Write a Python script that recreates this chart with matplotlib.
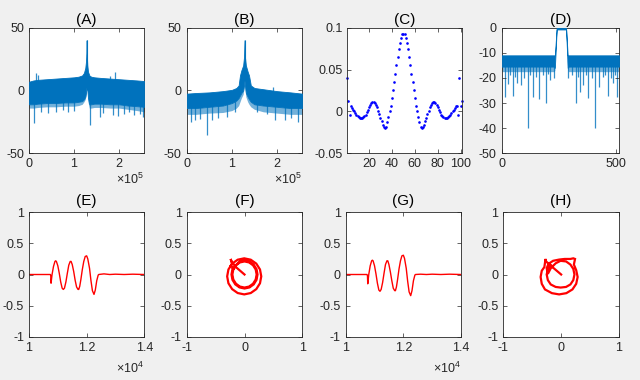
import numpy as np
import matplotlib
matplotlib.use("Agg")
import matplotlib.pyplot as plt

plt.rcParams['font.family'] = ['Liberation Sans', 'DejaVu Sans']
plt.rcParams['mathtext.fontset'] = 'custom'
plt.rcParams['mathtext.rm'] = 'Liberation Sans'
plt.rcParams['mathtext.it'] = 'Liberation Sans:italic'

BLUE = '#0072BD'
TXT = '#262626'

# ---------------- (A) spectrum: envelope + spikes ----------------
a_x = [0, 1e4, 2e4, 4e4, 6e4, 8e4, 1.0e5, 1.1e5, 1.18e5, 1.22e5, 1.25e5, 1.265e5,
       1.275e5, 1.28e5, 1.285e5, 1.295e5, 1.31e5, 1.34e5, 1.38e5, 1.45e5, 1.6e5,
       1.8e5, 2.0e5, 2.2e5, 2.4e5, 2.56e5]
a_upper = [7, 8, 8.5, 9, 9.5, 10, 10.5, 11, 12, 14, 18, 23, 30, 40, 28, 20, 15, 12,
           11, 10.5, 10, 9.5, 9, 8.5, 8, 7.5]
a_lower = [-11, -11, -10.5, -10, -10, -9.5, -9.5, -9, -8.5, -7, -5, -2, 2, 4, 3, 1,
           -6, -11, -11, -10.5, -10.5, -11, -11, -12, -12.5, -13]
a_fringe = [-14, -14, -13.5, -13, -13, -12.5, -12.5, -12, -11, -9, -7, -4, 0, 2, 1, -1,
            -9, -14, -14, -13.5, -13.5, -14, -14, -15, -16, -17]
a_spike_x = [10.4e3, 27e3, 42e3, 61e3, 75e3, 87e3, 101e3, 135e3, 157e3, 164e3,
             186e3, 197e3, 212e3, 223e3, 234e3, 246e3, 253e3,
             16e3, 20e3, 179e3, 192e3]
a_spike_y = [-26, -17.4, -18, -17, -15.5, -17, -16, -27.5, -21, -18,
             -19.5, -20, -19, -17, -19.5, -19, -21,
             13.6, 12.3, 11.8, 14.5]

# ---------------- (B) spectrum ----------------
b_x = [0, 2e4, 5e4, 8e4, 1.0e5, 1.1e5, 1.15e5, 1.18e5, 1.21e5, 1.25e5, 1.27e5, 1.28e5,
       1.29e5, 1.31e5, 1.35e5, 1.38e5, 1.42e5, 1.5e5, 1.7e5, 2.0e5, 2.3e5, 2.56e5]
b_upper = [-2.5, -2, -1.5, -0.5, 0.5, 2, 4, 12, 16, 20, 27, 40, 27, 20, 15, 12, 4, 2,
           1, -0.5, -1.5, -2.5]
b_lower = [-14, -14, -13, -12, -10, -8, -6, -4, -2, 0, 4, 8, 4, -2, -5, -7, -9, -11,
           -12, -13, -14, -14]
b_fringe = [-19, -19, -18, -17.5, -16, -14, -12, -9, -6, -3, 2, 6, 2, -5, -9, -11,
            -13, -15, -17, -18, -19, -19]
b_spike_x = [9.6e3, 18e3, 30e3, 44e3, 55e3, 70e3, 89e3, 107e3, 155e3, 177e3, 196e3,
             218e3, 232e3, 247e3, 192e3]
b_spike_y = [-24.8, -23.5, -22.7, -35.4, -23.5, -22, -21, -17.4, -17.4, -19, -23.5,
             -23.5, -22, -25.3, 3]

# ---------------- (C) impulse response dots ----------------
c_n = list(range(1, 102))
c_val = [0.040, 0.012, -0.004, 0.007, 0.004, 0.002, 0.000, -0.002, -0.004, -0.006,
         -0.007, -0.008, -0.008, -0.008, -0.007, -0.006, -0.004, -0.001, 0.002, 0.005,
         0.008, 0.010, 0.011, 0.011, 0.010, 0.008, 0.005, 0.001, -0.003, -0.008,
         -0.012, -0.016, -0.019, -0.020, -0.018, -0.013, -0.007, 0.000, 0.007, 0.016,
         0.025, 0.035, 0.045, 0.055, 0.065, 0.074, 0.082, 0.088, 0.092, 0.093,
         0.092, 0.088, 0.082, 0.074, 0.065, 0.055, 0.045, 0.035, 0.025, 0.016,
         0.007, 0.000, -0.007, -0.013, -0.018, -0.020, -0.019, -0.016, -0.012, -0.008,
         -0.003, 0.001, 0.005, 0.008, 0.010, 0.011, 0.011, 0.010, 0.008, 0.005,
         0.002, -0.001, -0.004, -0.006, -0.007, -0.008, -0.008, -0.008, -0.007, -0.006,
         -0.004, -0.002, 0.000, 0.002, 0.004, 0.006, 0.007, -0.004, 0.040, 0.007,
         0.012]

# ---------------- (D) filter magnitude (dB) ----------------
d_x = [0, 228, 232, 240, 281, 288, 292, 512]
d_upper = [-11, -11, -11, 0, 0, -11, -11, -11]
d_lower = [-15.5, -15.5, -16, -0.7, -0.7, -16, -15.5, -15.5]
d_fringe = [-17.5, -17.5, -17, -0.7, -0.7, -17, -17.5, -17.5]
d_spike_x = [13, 29, 51, 68, 84, 113, 138, 164, 193, 211, 228, 291, 324, 342, 356,
             378, 407, 425, 465, 484, 502,
             37, 60, 97, 125, 150, 180, 200, 305, 335, 368, 395, 440, 452, 475, 495]
d_spike_y = [-27.5, -22.5, -27, -22, -22.8, -40, -27.5, -28.4, -30, -20.8, -20, -20,
             -30, -25.5, -22.8, -27.8, -40, -23.5, -27, -22, -27.5,
             -19, -19.5, -20, -19, -19.5, -19, -18.5, -19, -19.5, -19, -20, -19.5,
             -19, -20, -19]

# ---------------- (E) / (G) time signals ----------------
e_t = [10000, 10740, 10755, 10765, 10800, 10850, 10900, 10925, 10950, 11000, 11050,
       11100, 11150, 11190, 11230, 11280, 11330, 11380, 11430, 11460, 11500, 11550,
       11600, 11650, 11700, 11725, 11760, 11800, 11850, 11900, 11950, 12000, 12040,
       12100, 12150, 12200, 12255, 12300, 12350, 12400, 12420, 12600, 12800, 13000,
       13300, 13600, 14000]
e_val = [0.0, 0.0, -0.02, -0.14, 0.0, 0.13, 0.21, 0.22, 0.21, 0.14, 0.02,
         -0.12, -0.22, -0.24, -0.22, -0.12, 0.02, 0.15, 0.21, 0.21, 0.16, 0.05,
         -0.09, -0.20, -0.24, -0.24, -0.19, -0.08, 0.08, 0.21, 0.29, 0.30, 0.25,
         0.10, -0.10, -0.26, -0.32, -0.25, -0.10, -0.01, 0.0, 0.01, 0.0, 0.005,
         0.0, 0.005, 0.0]
g_val = [0.0, 0.0, -0.02, -0.15, 0.0, 0.14, 0.22, 0.23, 0.22, 0.14, 0.01,
         -0.14, -0.25, -0.27, -0.24, -0.13, 0.02, 0.16, 0.22, 0.22, 0.16, 0.04,
         -0.10, -0.22, -0.26, -0.26, -0.20, -0.08, 0.09, 0.22, 0.30, 0.31, 0.26,
         0.10, -0.11, -0.28, -0.34, -0.26, -0.10, -0.01, 0.0, 0.005, 0.0, 0.005,
         0.0, 0.005, 0.0]

# ---------------- (F) / (H) complex trajectories ----------------
f_re = [0.0, -0.15, -0.22, -0.24, -0.214, -0.278, -0.30, -0.278, -0.214, -0.118, -0.005,
        0.108, 0.204, 0.268, 0.29, 0.268, 0.204, 0.108, -0.005, -0.118, -0.214,
        -0.24, -0.21,
        -0.194, -0.148, -0.08, 0.0, 0.08, 0.148, 0.194, 0.21, 0.194, 0.148, 0.08, 0.0,
        -0.08, -0.148, -0.194, -0.21, -0.194, -0.16,
        -0.086, 0.0, 0.086, 0.159, 0.208, 0.225, 0.208, 0.159, 0.086, 0.0, -0.086,
        -0.159, -0.208, -0.225, -0.208]
f_im = [0.0, 0.12, 0.20, 0.25, 0.175, 0.081, -0.03, -0.141, -0.235, -0.298, -0.32,
        -0.298, -0.235, -0.141, -0.03, 0.081, 0.175, 0.238, 0.26, 0.238, 0.175,
        0.14, 0.12,
        0.08, 0.148, 0.194, 0.21, 0.194, 0.148, 0.08, 0.0, -0.08, -0.148, -0.194, -0.21,
        -0.194, -0.148, -0.08, 0.0, 0.08, 0.14,
        0.208, 0.225, 0.208, 0.159, 0.086, 0.0, -0.086, -0.159, -0.208, -0.225, -0.208,
        -0.159, -0.086, 0.0, 0.086]
h_re = [0.0, -0.19, -0.26, -0.27, -0.29, -0.335, -0.355, -0.335, -0.28, -0.16, -0.035,
        0.09, 0.195, 0.26, 0.285, 0.26, 0.22, 0.24, 0.21, 0.16, 0.06, -0.035, -0.14,
        -0.22, -0.25,
        -0.23, -0.18, -0.095, -0.01, 0.085, 0.16, 0.21, 0.23, 0.21, 0.16, 0.085, -0.01,
        -0.095, -0.18, -0.23, -0.25, -0.23, -0.18]
h_im = [0.0, 0.15, 0.21, 0.25, 0.12, 0.06, -0.04, -0.15, -0.24, -0.30, -0.32,
        -0.30, -0.24, -0.15, -0.04, 0.07, 0.16, 0.25, 0.26, 0.25, 0.25, 0.24, 0.22,
        0.17, 0.10,
        0.01, 0.10, 0.18, 0.22, 0.21, 0.16, 0.09, 0.0, -0.09, -0.16, -0.20, -0.21,
        -0.20, -0.16, -0.09, 0.0, 0.08, 0.15]

titles = ['(A)', '(B)', '(C)', '(D)', '(E)', '(F)', '(G)', '(H)']

W, H = 640, 380
fig = plt.figure(figsize=(6.4, 3.8), dpi=100, facecolor='#F0F0F0')


def make_ax(l, r, t, b):
    return fig.add_axes([l / W, 1 - b / H, (r - l) / W, (b - t) / H])


axA = make_ax(29, 144.3, 27.7, 153.3)
axB = make_ax(186.7, 302.3, 27.7, 153.3)
axC = make_ax(347.3, 461.7, 27.7, 153.3)
axD = make_ax(501.7, 619, 27.7, 153.3)
axE = make_ax(29, 144.3, 212.3, 336.7)
axF = make_ax(186.7, 302.3, 212.3, 336.7)
axG = make_ax(345.7, 461, 212.3, 336.7)
axH = make_ax(503.3, 619, 212.3, 336.7)
axes = [axA, axB, axC, axD, axE, axF, axG, axH]

FS = 9
for ax, t in zip(axes, titles):
    ax.set_facecolor('white')
    for s in ax.spines.values():
        s.set_color(TXT)
        s.set_linewidth(0.6)
    ax.tick_params(direction='in', top=True, right=True, length=3, width=0.5,
                   color=TXT, labelcolor=TXT, labelsize=FS, pad=3.5)
    pad = 2.5 if ax in axes[:4] else 5.5
    ax.set_title(t, fontsize=11, color='black', pad=pad)


def spectrum(ax, x, up, lo, fr, sx, sy, top):
    ax.vlines(sx, sy, [top] * len(sx), color=BLUE, lw=0.9, alpha=0.8, zorder=1)
    ax.fill_between(x, lo, fr, color=BLUE, alpha=0.55, lw=0, zorder=2)
    ax.fill_between(x, up, lo, color=BLUE, lw=0.6, edgecolor=BLUE, zorder=3)


spectrum(axA, a_x, a_upper, a_lower, a_fringe, a_spike_x, a_spike_y, 0)
axA.vlines([1.28e5], [0], [40], color=BLUE, lw=0.8, zorder=3)
spectrum(axB, b_x, b_upper, b_lower, b_fringe, b_spike_x, b_spike_y, -8)
axB.vlines([1.28e5], [10], [40], color=BLUE, lw=0.8, zorder=3)
for ax in (axA, axB):
    ax.set_xlim(0, 2.56e5)
    ax.set_ylim(-50, 50)
    ax.set_xticks([0, 1e5, 2e5])
    ax.set_xticklabels(['0', '1', '2'])
    ax.set_yticks([-50, 0, 50])
    ax.set_yticklabels(['-50', '0', '50'])
    ax.text(1.0, -0.145, r'$\times10^{5}$', transform=ax.transAxes, ha='right',
            va='top', fontsize=FS, color=TXT)

axC.plot(c_n, c_val, 'o', color='#0000FF', ms=1.9, mew=0, clip_on=False)
axC.set_xlim(1, 101)
axC.set_ylim(-0.05, 0.1)
axC.set_xticks([20, 40, 60, 80, 100])
axC.set_xticklabels(['20', '40', '60', '80', '100'])
axC.set_yticks([-0.05, 0, 0.05, 0.1])
axC.set_yticklabels(['-0.05', '0', '0.05', '0.1'])

spectrum(axD, d_x, d_upper, d_lower, d_fringe, d_spike_x, d_spike_y, -13)
axD.set_xlim(0, 512)
axD.set_ylim(-50, 0)
axD.set_xticks([0, 500])
axD.set_xticklabels(['0', '500'])
axD.set_yticks([-50, -40, -30, -20, -10, 0])
axD.set_yticklabels(['-50', '-40', '-30', '-20', '-10', '0'])

for ax, v in ((axE, e_val), (axG, g_val)):
    ax.plot(e_t, v, color='#FF0000', lw=1.0)
    ax.set_xlim(1e4, 1.4e4)
    ax.set_xticks([1e4, 1.2e4, 1.4e4])
    ax.set_xticklabels(['1', '1.2', '1.4'])
    ax.text(1.0, -0.19, r'$\times10^{4}$', transform=ax.transAxes, ha='right',
            va='top', fontsize=FS, color=TXT)

for ax, re, im in ((axF, f_re, f_im), (axH, h_re, h_im)):
    ax.plot(re, im, color='#FF0000', lw=1.6, solid_joinstyle='miter')
    ax.set_xlim(-1, 1)
    ax.set_xticks([-1, 0, 1])
    ax.set_xticklabels(['-1', '0', '1'])

for ax in (axE, axF, axG, axH):
    ax.set_ylim(-1, 1)
    ax.set_yticks([-1, -0.5, 0, 0.5, 1])
    ax.set_yticklabels(['-1', '-0.5', '0', '0.5', '1'])

fig.savefig('out.png', dpi=100, facecolor=fig.get_facecolor())
